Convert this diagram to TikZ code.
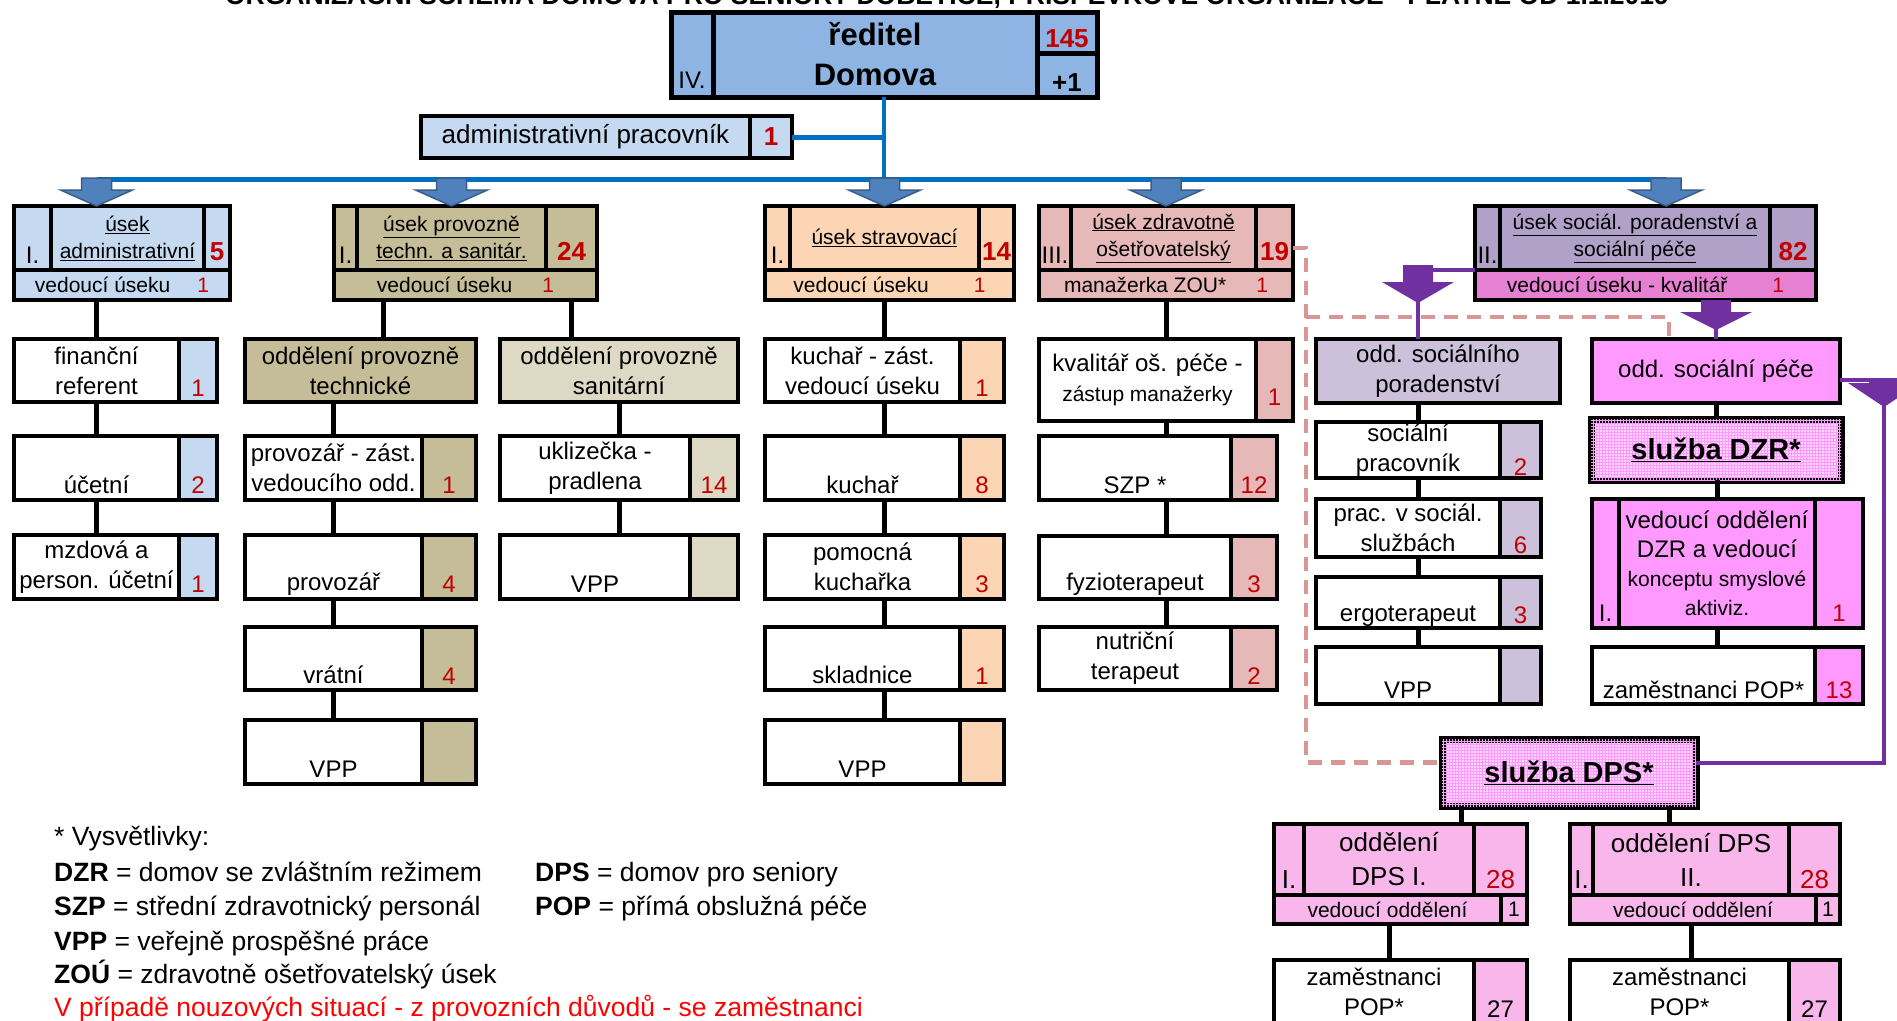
\documentclass[tikz,border=0pt]{standalone}
\usepackage{fontspec}
\setmainfont{Liberation Sans}
\usetikzlibrary{patterns}

\definecolor{numred}{HTML}{C00000}
\definecolor{dirblue}{HTML}{8DB4E2}
\definecolor{admblue}{HTML}{C5D9F1}
\definecolor{tantech}{HTML}{C4BD97}
\definecolor{tansan}{HTML}{DDD9C4}
\definecolor{peach}{HTML}{FCD5B4}
\definecolor{rose}{HTML}{E6B8B7}
\definecolor{lilac}{HTML}{B1A0C7}
\definecolor{lilaclt}{HTML}{CCC0DA}
\definecolor{kvalpink}{HTML}{E680D2}
\definecolor{socpink}{HTML}{FF99FF}
\definecolor{sluzfill}{HTML}{FFD6FF}
\definecolor{dpspink}{HTML}{F8B6EA}
\definecolor{busblue}{HTML}{0070C0}
\definecolor{arrblue}{HTML}{4F81BD}
\definecolor{arredge}{HTML}{385D8A}
\definecolor{purp}{HTML}{7030A0}
\definecolor{dashrose}{HTML}{DA9694}

\newcommand{\ftxt}{\fontsize{24}{30}\selectfont}
\newcommand{\fsec}{\fontsize{21}{27}\selectfont}
\newcommand{\fsml}{\fontsize{21}{28}\selectfont}
\newcommand{\fnum}{\fontsize{26}{27}\selectfont\bfseries}
\newcommand{\fleg}{\fontsize{26.5}{35}\selectfont}

% row box: name, left, top, body width, number width, height, text, number, colour
\newcommand{\rowbox}[9]{%
  \node[cell, anchor=north west, minimum width=#4, minimum height=#6] (#1) at (#2,#3) {#7};
  \node[cell, anchor=north west, fill=#9, text=numred, minimum width=#5, minimum height=#6] (#1n) at (#1.north east) {\strut\\#8};}

% section box (upper part): name, left, numeral right, number left, right, title, number, colour, numeral
\newcommand{\secbox}[9]{%
  \node[cell, anchor=north west, fill=#8, minimum width=#3-#2, minimum height=64] (#1l) at (#2,206) {\strut\\#9};
  \node[cell, anchor=north west, fill=#8, font=\fsec, minimum width=#4-#3, minimum height=64] (#1) at (#1l.north east) {#6};
  \node[cell, anchor=north west, fill=#8, font=\fnum, text=numred, minimum width=#5-#4, minimum height=64] (#1r) at (#1.north east) {\strut\\#7};}

\newcommand{\bluearrow}[1]{\draw[barr] (#1) ++(-15,-28) -- ++(30,0) -- ++(0,12) -- ++(21,0) -- ++(-36,16) -- ++(-36,-16) -- ++(21,0) -- cycle;}
% purple arrow: tip, total length, head length
\newcommand{\purparrow}[3]{\fill[parr] (#1) ++(-15,-#2) -- ++(30,0) -- ++(0,#2-#3) -- ++(21,0) -- ++(-36,#3) -- ++(-36,-#3) -- ++(21,0) -- cycle;}

\begin{document}
\begin{tikzpicture}[x=1pt, y=-1pt,
  cell/.style={draw, line width=3.5pt, inner sep=0pt, outer sep=0pt, align=center, font=\ftxt},
  conn/.style={line width=5pt},
  bline/.style={draw=busblue, line width=5pt},
  pline/.style={draw=purp, line width=4pt},
  dline/.style={draw=dashrose, line width=4.5pt, dash pattern=on 14pt off 9pt},
  barr/.style={fill=arrblue, draw=arredge, line width=1.5pt},
  parr/.style={fill=purp},
  sluzba/.style={cell, line width=7pt, fill=sluzfill, postaction={pattern=grid, pattern color=socpink}, font=\fontsize{29}{30}\selectfont\bfseries},
  leg/.style={inner sep=0pt, anchor=base west, font=\fleg}]
\fill[white] (0,0) rectangle (1897,1020);
\useasboundingbox (0,0) rectangle (1897,1020);

\node[font=\fontsize{26.5}{30}\selectfont\bfseries, anchor=base] (title) at (947,4.5) {ORGANIZAČNÍ SCHÉMA DOMOVA PRO SENIORY DOBĚTICE, PŘÍSPĚVKOVÉ ORGANIZACE - PLATNÉ OD 1.1.2019};

% director
\node[cell, line width=5pt, anchor=north west, fill=dirblue, font=\fontsize{24}{40}\selectfont, minimum width=42, minimum height=85] (dirl) at (671,12) {\strut\\IV.};
\node[cell, line width=5pt, anchor=north west, fill=dirblue, font=\fontsize{31}{40}\selectfont\bfseries, minimum width=324, minimum height=85] (dir) at (dirl.north east) {ředitel\\Domova};
\node[cell, line width=5pt, anchor=north west, fill=dirblue, font=\fnum, text=numred, text height=30pt, text depth=0pt, minimum width=60, minimum height=41] (dirn) at (dir.north east) {145};
\node[cell, line width=5pt, anchor=north west, fill=dirblue, font=\fnum, text height=33pt, text depth=0pt, minimum width=60, minimum height=44] (dirp) at (dirn.south west) {+1};

\node[cell, anchor=north west, fill=admblue, font=\fontsize{26}{30}\selectfont, minimum width=329, minimum height=42] (adm) at (421,116) {administrativní pracovník};
\node[cell, anchor=north west, fill=admblue, font=\fontsize{26}{30}\selectfont\bfseries, text=numred, minimum width=42, minimum height=42] (admn) at (adm.north east) {1};

% sections
\secbox{s1}{14}{51}{204}{230}{\underline{úsek}\\\underline{administrativní}}{5}{admblue}{I.}
\secbox{s2}{334}{357}{546}{597}{\underline{úsek provozně}\\\underline{techn. a sanitár.}}{24}{tantech}{I.}
\secbox{s3}{765}{790}{979}{1014}{\underline{úsek stravovací}}{14}{peach}{I.}
\secbox{s4}{1039}{1071}{1256}{1293}{\underline{úsek zdravotně}\\\underline{ošetřovatelský}}{19}{rose}{III.}
\secbox{s5}{1475}{1500}{1770}{1816}{\underline{úsek sociál. poradenství a}\\\underline{sociální péče}}{82}{lilac}{II.}
\node[cell, anchor=north west, fill=admblue, font=\fsec, minimum width=216, minimum height=30] (s1b) at (s1l.south west) {vedoucí úseku\hspace{27pt}\textcolor{numred}{1}};
\node[cell, anchor=north west, fill=tantech, font=\fsec, minimum width=263, minimum height=30] (s2b) at (s2l.south west) {vedoucí úseku\hspace{30pt}\textcolor{numred}{1}};
\node[cell, anchor=north west, fill=peach, font=\fsec, minimum width=249, minimum height=30] (s3b) at (s3l.south west) {vedoucí úseku\hspace{45pt}\textcolor{numred}{1}};
\node[cell, anchor=north west, fill=rose, font=\fsec, minimum width=254, minimum height=30] (s4b) at (s4l.south west) {manažerka ZOU*\hspace{30pt}\textcolor{numred}{1}};
\node[cell, anchor=north west, fill=kvalpink, font=\fsec, minimum width=341, minimum height=30] (s5b) at (s5l.south west) {vedoucí úseku - kvalitář\hspace{45pt}\textcolor{numred}{1}};

% administrativni
\rowbox{fin}{14}{339}{165}{38}{63}{finanční\\referent}{1}{admblue}
\rowbox{uct}{14}{436}{165}{38}{64}{\strut\\účetní}{2}{admblue}
\rowbox{mzd}{14}{535}{165}{38}{64}{mzdová a\\person. účetní}{1}{admblue}

% provozne technicke
\node[cell, anchor=north west, fill=tantech, minimum width=231, minimum height=63] (odt) at (245,339) {oddělení provozně\\technické};
\rowbox{pzv}{245}{436}{177}{54}{64}{provozář - zást.\\vedoucího odd.}{1}{tantech}
\rowbox{pvz}{245}{535}{177}{54}{64}{\strut\\provozář}{4}{tantech}
\rowbox{vra}{245}{627}{177}{54}{63}{\strut\\vrátní}{4}{tantech}
\rowbox{vpt}{245}{720}{177}{54}{64}{\strut\\VPP}{}{tantech}

% provozne sanitarni
\node[cell, anchor=north west, fill=tansan, minimum width=238, minimum height=63] (ods) at (500,339) {oddělení provozně\\sanitární};
\rowbox{ukl}{500}{436}{190}{48}{64}{uklizečka -\\pradlena}{14}{tansan}
\rowbox{vps}{500}{535}{190}{48}{64}{\strut\\VPP}{}{tansan}

% stravovaci
\rowbox{kzv}{765}{339}{195}{44}{63}{kuchař - zást.\\vedoucí úseku}{1}{peach}
\rowbox{kuc}{765}{436}{195}{44}{64}{\strut\\kuchař}{8}{peach}
\rowbox{pom}{765}{535}{195}{44}{64}{pomocná\\kuchařka}{3}{peach}
\rowbox{skl}{765}{627}{195}{44}{63}{\strut\\skladnice}{1}{peach}
\rowbox{vpk}{765}{720}{195}{44}{64}{\strut\\VPP}{}{peach}

% zdravotne osetrovatelsky
\rowbox{kva}{1039}{339}{217}{37}{82}{kvalitář oš. péče -\\{\fsml zástup manažerky}}{1}{rose}
\rowbox{szp}{1039}{436}{192}{46}{64}{\strut\\SZP *}{12}{rose}
\rowbox{fyz}{1039}{536}{192}{46}{63}{\strut\\fyzioterapeut}{3}{rose}
\rowbox{nut}{1039}{627}{192}{46}{63}{nutriční\\terapeut}{2}{rose}

% socialni poradenstvi
\node[cell, anchor=north west, fill=lilaclt, minimum width=244, minimum height=64] (odp) at (1316,339) {odd. sociálního\\poradenství};
\rowbox{soc}{1316}{422}{184}{41}{56}{sociální\\pracovník}{2}{lilaclt}
\rowbox{prs}{1316}{499}{184}{41}{58}{prac. v sociál.\\službách}{6}{lilaclt}
\rowbox{erg}{1316}{577}{184}{41}{51}{\strut\\[-8pt]ergoterapeut}{[-8pt]3}{lilaclt}
\rowbox{vpo}{1316}{647}{184}{41}{57}{\strut\\[-6pt]VPP}{[-6pt]}{lilaclt}

% socialni pece
\node[cell, anchor=north west, fill=socpink, minimum width=248, minimum height=64] (osp) at (1592,339) {odd. sociální péče};
\node[sluzba, anchor=north west, minimum width=250, minimum height=61] (dzr) at (1591,419) {\underline{služba DZR*}};
\node[cell, anchor=north west, fill=socpink, minimum width=27, minimum height=129] (vdzl) at (1592,499) {\strut\\[64pt]I.};
\node[cell, anchor=north west, fill=socpink, font=\fontsize{24}{29}\selectfont, minimum width=196, minimum height=129] (vdz) at (vdzl.north east) {vedoucí oddělení\\DZR a vedoucí\\{\fsml konceptu smyslové}\\{\fsml aktiviz.}};
\node[cell, anchor=north west, fill=socpink, text=numred, minimum width=48, minimum height=129] (vdzn) at (vdz.north east) {\strut\\[64pt]1};
\rowbox{zpo}{1592}{647}{223}{48}{57}{\strut\\[-4pt]zaměstnanci POP*}{[-4pt]13}{socpink}

% DPS
\node[sluzba, anchor=north west, minimum width=254, minimum height=67] (dps) at (1442,739) {\underline{služba DPS*}};
\node[cell, anchor=north west, fill=dpspink, font=\fontsize{26}{34}\selectfont, minimum width=30, minimum height=71] (dp1l) at (1274,824) {\strut\\I.};
\node[cell, anchor=north west, fill=dpspink, font=\fontsize{26}{34}\selectfont, minimum width=170, minimum height=71] (dp1) at (dp1l.north east) {oddělení\\DPS I.};
\node[cell, anchor=north west, fill=dpspink, font=\fontsize{26}{34}\selectfont, text=numred, minimum width=53, minimum height=71] (dp1n) at (dp1.north east) {\strut\\28};
\node[cell, anchor=north west, fill=dpspink, font=\fsec, minimum width=227, minimum height=29] (dp1b) at (dp1l.south west) {vedoucí oddělení};
\node[cell, anchor=north west, fill=dpspink, font=\fsec, minimum width=26, minimum height=29] (dp1bn) at (dp1b.north east) {1};
\node[cell, anchor=north west, fill=dpspink, font=\fontsize{26}{34}\selectfont, minimum width=23, minimum height=71] (dp2l) at (1570,824) {\strut\\I.};
\node[cell, anchor=north west, fill=dpspink, font=\fontsize{26}{34}\selectfont, minimum width=196, minimum height=71] (dp2) at (dp2l.north east) {oddělení DPS\\II.};
\node[cell, anchor=north west, fill=dpspink, font=\fontsize{26}{34}\selectfont, text=numred, minimum width=51, minimum height=71] (dp2n) at (dp2.north east) {\strut\\28};
\node[cell, anchor=north west, fill=dpspink, font=\fsec, minimum width=246, minimum height=29] (dp2b) at (dp2l.south west) {vedoucí oddělení};
\node[cell, anchor=north west, fill=dpspink, font=\fsec, minimum width=24, minimum height=29] (dp2bn) at (dp2b.north east) {1};
\rowbox{zp1}{1274}{960}{200}{53}{64}{zaměstnanci\\POP*}{\textcolor{black}{27}}{dpspink}
\rowbox{zp2}{1570}{960}{219}{51}{64}{zaměstnanci\\POP*}{\textcolor{black}{27}}{dpspink}

% blue lines and arrows
\coordinate (bus) at (884,179);
\path (fin.north |- s1.north) coordinate (t1);
\path (s2.north) coordinate (t2);
\path (s3.north) coordinate (t3);
\path (s4b.north |- s4.north) coordinate (t4);
\path ([xshift=31pt]s5.north) coordinate (t5);
\draw[bline, line width=3.5pt] (dir.south -| bus) -- (bus);
\draw[bline] (admn.east) -- (admn.east -| bus);
\draw[bline] (t1 |- bus) -- (t5 |- bus);
\foreach \t in {t1,t2,t3,t4,t5} {
  \draw[bline, line width=3pt] (\t |- bus) -- (\t);
  \bluearrow{\t}
}

% black connectors
\draw[conn] (fin.north |- s1b.south) -- (fin.north);
\draw[conn] (fin.south) -- (uct.north);
\draw[conn] (uct.south) -- (mzd.north);
\path ([xshift=23pt]odt.north) coordinate (odtin);
\path ([xshift=-48pt]ods.north) coordinate (odsin);
\draw[conn] (odtin |- s2b.south) -- (odtin);
\draw[conn] (odsin |- s2b.south) -- (odsin);
\draw[conn] (pzv.north |- odt.south) -- (pzv.north);
\draw[conn] (pzv.south) -- (pvz.north);
\draw[conn] (pvz.south) -- (vra.north);
\draw[conn] (vra.south) -- (vpt.north);
\draw[conn] (ods.south) -- (ods.south |- ukl.north);
\draw[conn] (ods.south |- ukl.south) -- (ods.south |- vps.north);
\draw[conn] (s3 |- s3b.south) -- (s3 |- kzv.north);
\draw[conn] (s3 |- kzv.south) -- (s3 |- kuc.north);
\draw[conn] (s3 |- kuc.south) -- (s3 |- pom.north);
\draw[conn] (s3 |- pom.south) -- (s3 |- skl.north);
\draw[conn] (s3 |- skl.south) -- (s3 |- vpk.north);
\draw[conn] (s4b.south) -- (s4b.south |- kva.north);
\draw[conn] (s4b |- kva.south) -- (s4b |- szp.north);
\draw[conn] (s4b |- szp.south) -- (s4b |- fyz.north);
\draw[conn] (s4b |- fyz.south) -- (s4b |- nut.north);
\path ([xshift=10pt]soc.north) coordinate (c6);
\draw[conn] (c6 |- odp.south) -- (c6);
\draw[conn] (c6 |- soc.south) -- (c6 |- prs.north);
\draw[conn] (c6 |- prs.south) -- (c6 |- erg.north);
\draw[conn] (c6 |- erg.south) -- (c6 |- vpo.north);
\draw[conn] (osp.south) -- (dzr.north);
\draw[conn] (vdz |- dzr.south) -- (vdz.north);
\draw[conn] (vdz.south) -- (vdz |- zpo.north);
\path ([xshift=19pt]dps.south west) coordinate (dpa);
\path ([xshift=-27pt]dps.south east) coordinate (dpb);
\draw[conn] (dpa) -- (dpa |- dp1.north);
\draw[conn] (dpb) -- (dpb |- dp2.north);
\draw[conn] (dp1 |- dp1b.south) -- (dp1 |- zp1.north);
\draw[conn] (dp2 |- dp2b.south) -- (dp2 |- zp2.north);

% dashed links of ZOU
\coordinate (dj) at (1306,317);
\draw[dline] ([yshift=-10pt]s4r.east) -- ++(13,0) |- ([yshift=10pt]dps.west);
\draw[dline] (dj) -| ([xshift=-47pt]osp.north);

% purple links
\draw[pline] (s5b.north west) -| (c6 |- odp.north);
\path (c6 |- odp.north) ++(0,-36) coordinate (pt1);
\purparrow{pt1}{38}{21}
\draw[pline] (s5b.south -| osp.north) -- (osp.north);
\path (osp.north) ++(0,-9) coordinate (pt2);
\purparrow{pt2}{30}{18}
\draw[pline] ([yshift=-9pt]osp.east) -- ++(44,0) |- ([yshift=10pt]dps.east);
\path ([yshift=-9pt]osp.east) ++(44,27) coordinate (pt3);
\purparrow{pt3}{29}{24}

% legend
\node[leg] (lg1) at (54,845) {* Vysvětlivky:};
\node[leg] (lg2) at (54,881) {\textbf{DZR} = domov se zvláštním režimem};
\node[leg] (lg3) at (535,881) {\textbf{DPS} = domov pro seniory};
\node[leg] (lg4) at (54,915) {\textbf{SZP} = střední zdravotnický personál};
\node[leg] (lg5) at (535,915) {\textbf{POP} = přímá obslužná péče};
\node[leg] (lg6) at (54,950) {\textbf{VPP} = veřejně prospěšné práce};
\node[leg] (lg7) at (54,983) {\textbf{ZOÚ} = zdravotně ošetřovatelský úsek};
\node[leg, text=red] (lg8) at (54,1016) {V případě nouzových situací - z provozních důvodů - se zaměstnanci};
\end{tikzpicture}
\end{document}
